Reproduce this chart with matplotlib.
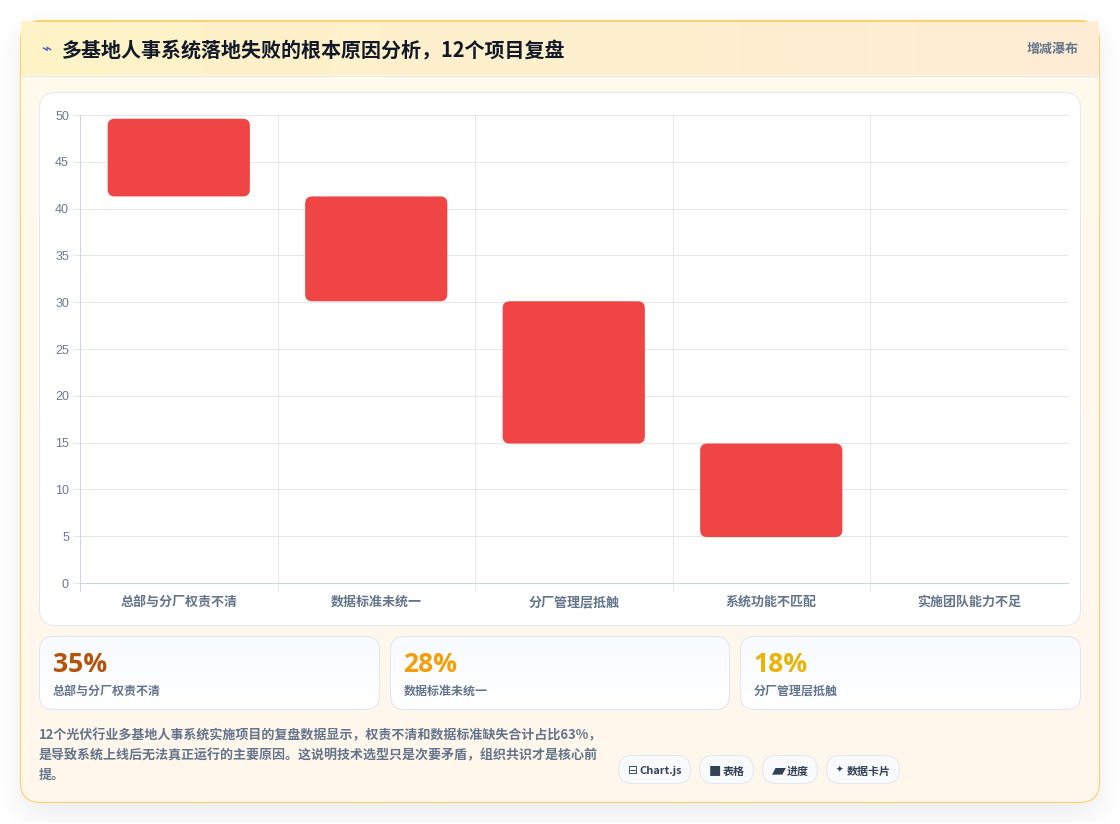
import numpy as np
import matplotlib
matplotlib.use('Agg')
import matplotlib.pyplot as plt
from matplotlib.colors import to_rgb
from matplotlib.patches import FancyBboxPatch, Rectangle

plt.rcParams['font.family'] = ['Noto Sans CJK SC', 'DejaVu Sans']

categories = ['总部与分厂权责不清', '数据标准未统一', '分厂管理层抵触', '系统功能不匹配', '实施团队能力不足']
bar_low = [41.3, 30.1, 14.9, 4.9]
bar_high = [49.6, 41.3, 30.1, 14.9]
y_ticks = [0, 5, 10, 15, 20, 25, 30, 35, 40, 45, 50]

title = '多基地人事系统落地失败的根本原因分析，12个项目复盘'
badge = '增减瀑布'
stat_values = ['35%', '28%', '18%']
stat_labels = ['总部与分厂权责不清', '数据标准未统一', '分厂管理层抵触']
stat_colors = ['#b45309', '#f59e0b', '#eab308']
note_lines = [
    '12个光伏行业多基地人事系统实施项目的复盘数据显示，权责不清和数据标准缺失合计占比63%，',
    '是导致系统上线后无法真正运行的主要原因。这说明技术选型只是次要矛盾，组织共识才是核心前',
    '提。',
]
chip_icons = ['⊟', '■', '▰', '✦']
chip_labels = ['Chart.js', '表格', '进度', '数据卡片']

W, H = 1120, 824
fig = plt.figure(figsize=(W / 100, H / 100), dpi=100, facecolor='white')

# page layer in pixel coordinates, y pointing down
bg = fig.add_axes([0, 0, 1, 1], zorder=0)
bg.axis('off')


def px(n):
    return n * 72 / 100


def box(x0, y0, x1, y1, r, fc='none', ec='none', lw=1.0, z=2):
    p = FancyBboxPatch((x0, y0), x1 - x0, y1 - y0,
                       boxstyle=f'round,pad=0,rounding_size={r}',
                       fc=fc, ec=ec, lw=px(lw), zorder=z)
    bg.add_patch(p)
    return p


def gradient(x0, y0, x1, y1, c0, c1, horizontal, clip, z):
    t = np.linspace(0, 1, 256)
    c0, c1 = np.array(to_rgb(c0)), np.array(to_rgb(c1))
    ramp = c0[None, :] * (1 - t[:, None]) + c1[None, :] * t[:, None]
    img = ramp[None, :, :] if horizontal else ramp[:, None, :]
    im = bg.imshow(img, extent=(x0, x1, y1, y0), aspect='auto', zorder=z,
                   interpolation='bilinear')
    im.set_clip_path(clip)


def blur(a, sigma):
    k = np.exp(-0.5 * (np.arange(-60, 61) / sigma) ** 2)
    k /= k.sum()
    a = np.apply_along_axis(lambda v: np.convolve(v, k, mode='same'), 0, a)
    return np.apply_along_axis(lambda v: np.convolve(v, k, mode='same'), 1, a)


# soft card shadow
mask = np.zeros((H, W))
mask[32:812, 22:1098] = 1
shadow = np.zeros((H, W, 4))
shadow[..., 3] = blur(mask, 16) * 0.09
shadow[822:, :, 3] = 0
bg.imshow(shadow, extent=(0, W, H, 0), aspect='auto', zorder=1)

# main card
card = box(20.5, 20.5, 1099.5, 802.5, 20, fc='none')
gradient(20, 20, 1100, 803, '#fffbeb', '#fff7ed', False, card, 2)
box(20.5, 20.5, 1099.5, 802.5, 20, ec='#f8d470', lw=1.2, z=3)

# header strip
head = Rectangle((21, 21), 1078, 54, fc='none', ec='none', zorder=4)
bg.add_patch(head)
gradient(21, 21, 1099, 75, '#fef3c7', '#ffedd5', True, head, 4)
bg.plot([21, 1099], [75.5, 75.5], color='#e8e6df', lw=px(1), zorder=5)
bg.plot([34, 1086], [20.8, 20.8], color='#f8d470', lw=px(1.0), zorder=5)
bg.text(47, 50, '⌁', fontsize=px(17), color='#4f5fc0', ha='center', va='center',
        family='DejaVu Sans', fontweight='bold', zorder=6)
bg.text(62, 57, title, fontsize=px(20), fontweight='bold', color='#111827',
        ha='left', va='baseline', zorder=6)
bg.text(1079, 53, badge, fontsize=px(13), fontweight='bold', color='#64748b',
        ha='right', va='baseline', zorder=6)

# chart panel
box(39.5, 92.5, 1080.5, 625.5, 16, fc='white', ec='#e2e8f0', lw=1, z=6)

# stat cards
card_x = [(39.5, 379.5), (390.5, 729.5), (740.5, 1080.5)]
for (x0, x1), val, lab, col in zip(card_x, stat_values, stat_labels, stat_colors):
    c = box(x0, 636.5, x1, 709.5, 14, fc='none')
    gradient(x0, 636, x1, 710, '#f8fbff', '#ffffff', False, c, 6)
    box(x0, 636.5, x1, 709.5, 14, ec='#dce7f5', lw=1, z=7)
    bg.text(x0 + 13, 672.5, val, fontsize=px(26.5), fontweight='bold', color=col,
            family='Open Sans', ha='left', va='baseline', zorder=8)
    bg.text(x0 + 13.5, 694.5, lab, fontsize=px(12), fontweight='bold', color='#64748b',
            ha='left', va='baseline', zorder=8)

# note text
for i, line in enumerate(note_lines):
    bg.text(39, 739 + 20 * i, line, fontsize=px(13), fontweight='bold', color='#64748b',
            ha='left', va='baseline', zorder=8)

# chips along the bottom
chip_x = [(618.5, 690.5), (699.5, 753.5), (762.5, 817.5), (826.5, 899.5)]
icon_size = [12, 13, 18, 9]
for (x0, x1), icon, lab, size in zip(chip_x, chip_icons, chip_labels, icon_size):
    box(x0, 755.5, x1, 783.5, 14, fc='#f8fafc', ec='#e2e8f0', lw=1, z=7)
    bg.text(x0 + 9, 770, icon, fontsize=px(size), color='#334155', family='DejaVu Sans',
            ha='left', va='center', zorder=8)
    bg.text(x1 - 9, 774.5, lab, fontsize=px(11), fontweight='bold', color='#334155',
            ha='right', va='baseline', zorder=8)

bg.set_xlim(0, W)
bg.set_ylim(H, 0)

# waterfall chart
ax = fig.add_axes([80 / W, 1 - 583 / H, 987.5 / W, 468 / H], zorder=2)
ax.patch.set_alpha(0)
ax.set_xlim(-0.5, 4.5)
ax.set_ylim(0, 50)

x_scale = 987.5 / 5
y_scale = 468 / 50
half = 0.36
for i, (lo, hi) in enumerate(zip(bar_low, bar_high)):
    ax.add_patch(FancyBboxPatch((i - half, lo), 2 * half, hi - lo,
                                boxstyle=f'round,pad=0,rounding_size={7 / x_scale}',
                                mutation_aspect=x_scale / y_scale,
                                fc='#f04545', ec='none', zorder=3))

ax.set_yticks(y_ticks)
ax.set_xticks(range(len(categories)))
ax.set_xticklabels(categories, fontsize=px(13), fontweight='bold', color='#64748b',
                   va='baseline')
ax.set_xticks(np.arange(0.5, 4), minor=True)
ax.tick_params(axis='x', which='major', length=0, pad=px(23))
ax.tick_params(axis='x', which='minor', length=px(8), width=px(1), color='#e5e7eb')
ax.tick_params(axis='y', length=px(7), width=px(1), color='#e5e7eb', labelcolor='#6b7a90',
               labelsize=px(12.5), pad=px(4))
for lab in ax.get_yticklabels():
    lab.set_family('Liberation Sans')
ax.grid(axis='y', color='#e5e7eb', lw=px(1), zorder=0)
ax.grid(axis='x', which='minor', color='#e5e7eb', lw=px(1), zorder=0)
ax.set_axisbelow(True)
ax.spines['top'].set_visible(False)
ax.spines['right'].set_visible(False)
ax.spines['left'].set_color('#cbd5e1')
ax.spines['bottom'].set_color('#cbd5e1')
ax.spines['left'].set_linewidth(px(1))
ax.spines['bottom'].set_linewidth(px(1))
# left axis line runs on below the baseline like the category ticks
ax.plot([-0.5, -0.5], [0, -8 / y_scale], color='#cbd5e1', lw=px(1), clip_on=False)

fig.savefig('out.png', dpi=100, facecolor='white')
